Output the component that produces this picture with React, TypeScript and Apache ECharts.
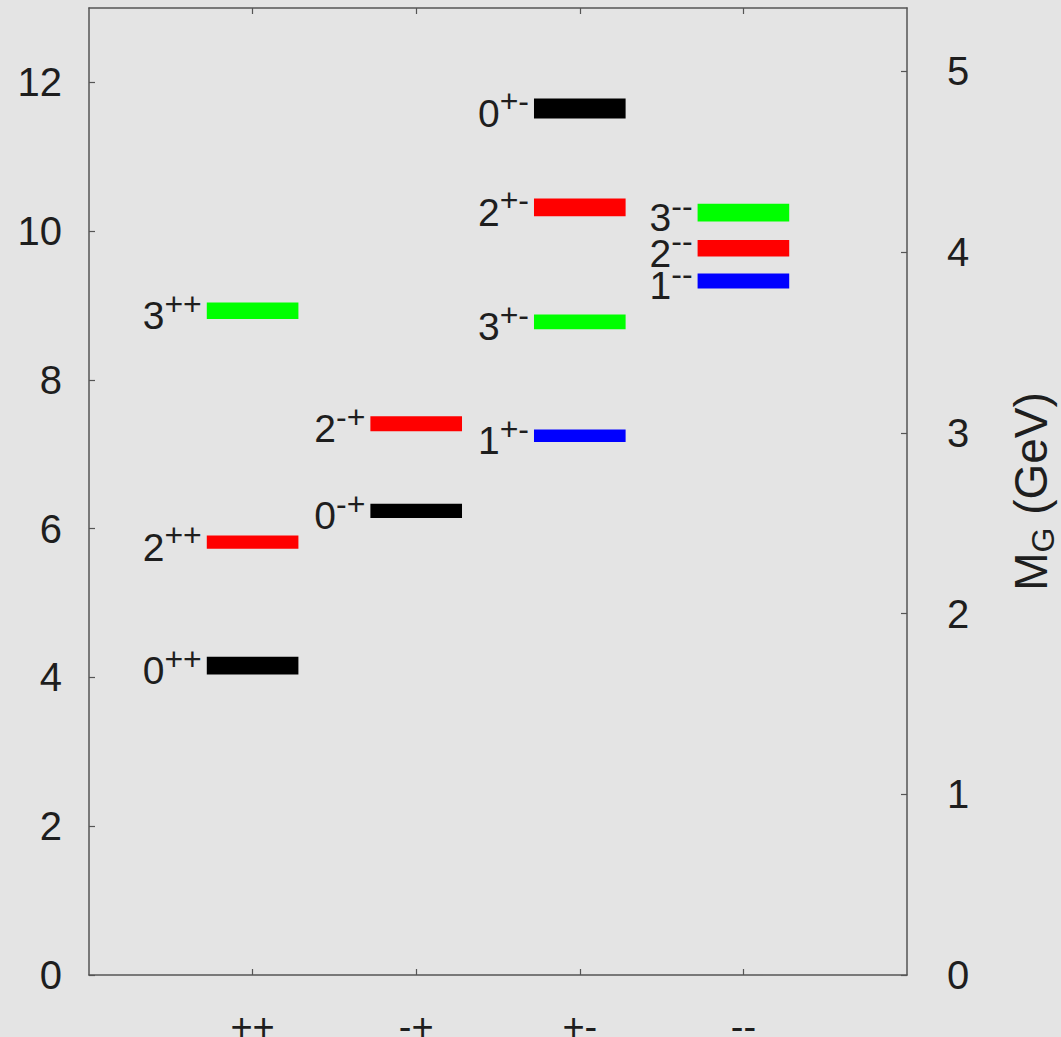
import React, { useEffect, useRef } from 'react';
import * as echarts from 'echarts';

// Categories (PC quantum numbers) on the x axis, at x = 1..4
const pcLabels = ['++', '-+', '+-', '--'];
const pcTickValues = [1, 2, 3, 4];

// Glueball states: spin J, PC channel, mass in r0 units, uncertainty
const stateSpin = [0, 2, 3, 0, 2, 1, 3, 2, 0, 1, 2, 3];
const statePC = ['++', '++', '++', '-+', '-+', '+-', '+-', '+-', '+-', '--', '--', '--'];
const stateMass = [4.16, 5.82, 8.93, 6.24, 7.41, 7.25, 8.78, 10.32, 11.65, 9.33, 9.77, 10.25];
const stateErr = [0.12, 0.088, 0.11, 0.095, 0.1, 0.085, 0.1, 0.12, 0.135, 0.1, 0.11, 0.12];

// colour by spin J = 0,1,2,3
const spinColors = ['#000000', '#0000ff', '#ff0000', '#00ff00'];

// axis ranges and tick labels
const leftMax = 13;
const leftTickValues = [0, 2, 4, 6, 8, 10, 12];
const r0PerGeV = 2.43;
const rightMax = Math.round((leftMax / r0PerGeV) * 100) / 100;
const rightTickValues = [0, 1, 2, 3, 4, 5];

const FONT = '"Liberation Sans", Arial, Helvetica, sans-serif';
const TEXT = '#1e1e1e';
const AXIS = '#555555';

export default function App() {
  const ref = useRef<HTMLDivElement>(null);

  useEffect(() => {
    document.body.style.margin = '0';
    const chart = echarts.init(ref.current!, null, { renderer: 'svg', width: 1061, height: 1037 });
    const halfW = 0.28;

    const data = stateMass.map((m, i) => [
      pcLabels.indexOf(statePC[i]) + 1,
      m,
      stateErr[i],
      stateSpin[i],
    ]);

    const axisLine = { show: true, onZero: false, lineStyle: { color: AXIS, width: 1.5 } };
    const tick = (values: number[]) => ({
      show: true,
      inside: true,
      length: 6,
      customValues: values,
      lineStyle: { color: AXIS, width: 1.2 },
    });

    chart.setOption({
      animation: false,
      backgroundColor: 'transparent',
      grid: {
        left: 89,
        right: 154,
        top: 8,
        bottom: 62,
        containLabel: false,
        outerBoundsMode: 'none',
      },
      xAxis: [
        {
          type: 'value',
          min: 0,
          max: 5,
          interval: 1,
          position: 'bottom',
          axisLine,
          axisTick: tick(pcTickValues),
          minorTick: { show: false },
          splitLine: { show: false },
          axisLabel: {
            customValues: pcTickValues,
            margin: 33,
            fontSize: 38,
            fontFamily: FONT,
            color: TEXT,
            formatter: (v: number) => pcLabels[v - 1] ?? '',
          },
        },
        {
          type: 'value',
          min: 0,
          max: 5,
          interval: 1,
          position: 'top',
          axisLine,
          axisTick: tick(pcTickValues),
          minorTick: { show: false },
          splitLine: { show: false },
          axisLabel: { show: false },
        },
      ],
      yAxis: [
        {
          type: 'value',
          min: 0,
          max: leftMax,
          interval: 2,
          position: 'left',
          axisLine,
          axisTick: tick(leftTickValues),
          minorTick: { show: false },
          splitLine: { show: false },
          axisLabel: {
            customValues: leftTickValues,
            margin: 27,
            fontSize: 40,
            fontFamily: FONT,
            color: TEXT,
            formatter: (v: number) => String(v),
          },
        },
        {
          type: 'value',
          min: 0,
          max: rightMax,
          interval: 1,
          position: 'right',
          axisLine,
          axisTick: tick(rightTickValues),
          minorTick: { show: false },
          splitLine: { show: false },
          axisLabel: {
            customValues: rightTickValues,
            margin: 40,
            fontSize: 40,
            fontFamily: FONT,
            color: TEXT,
            formatter: (v: number) => String(v),
          },
          name: '{m|M}{s|G}{m| (GeV)}',
          nameLocation: 'middle',
          nameRotate: 90,
          nameGap: 96,
          nameTextStyle: {
            fontFamily: FONT,
            color: TEXT,
            rich: {
              m: { fontSize: 46, fontFamily: FONT, color: TEXT, lineHeight: 56 },
              s: { fontSize: 32, fontFamily: FONT, color: TEXT, lineHeight: 32, verticalAlign: 'bottom' },
            },
          },
        },
      ],
      series: [
        {
          type: 'custom',
          xAxisIndex: 0,
          yAxisIndex: 0,
          data,
          clip: false,
          renderItem: (params: any, api: any) => {
            const x = api.value(0);
            const m = api.value(1);
            const e = api.value(2);
            const j = api.value(3);
            const pc = pcLabels[x - 1];
            const tl = api.coord([x - halfW, m + e]);
            const br = api.coord([x + halfW, m - e]);
            const mid = api.coord([x, m]);
            return {
              type: 'group',
              children: [
                {
                  type: 'rect',
                  shape: { x: tl[0], y: tl[1], width: br[0] - tl[0], height: br[1] - tl[1] },
                  style: { fill: spinColors[j] },
                },
                {
                  type: 'text',
                  style: {
                    text: `{j|${j}}{p|${pc}}`,
                    x: tl[0] - 5,
                    y: mid[1] + 5,
                    align: 'right',
                    verticalAlign: 'middle',
                    rich: {
                      j: { fontSize: 39, fontFamily: FONT, fill: TEXT, lineHeight: 56 },
                      p: { fontSize: 32, fontFamily: FONT, fill: TEXT, lineHeight: 28, verticalAlign: 'top' },
                    },
                  },
                },
              ],
            };
          },
        },
      ],
    });

    return () => chart.dispose();
  }, []);

  return (
    <div style={{ position: 'fixed', left: 0, top: 0, width: 1061, height: 1037, background: '#e4e4e4' }}>
      <div ref={ref} style={{ width: 1061, height: 1037 }} />
    </div>
  );
}
